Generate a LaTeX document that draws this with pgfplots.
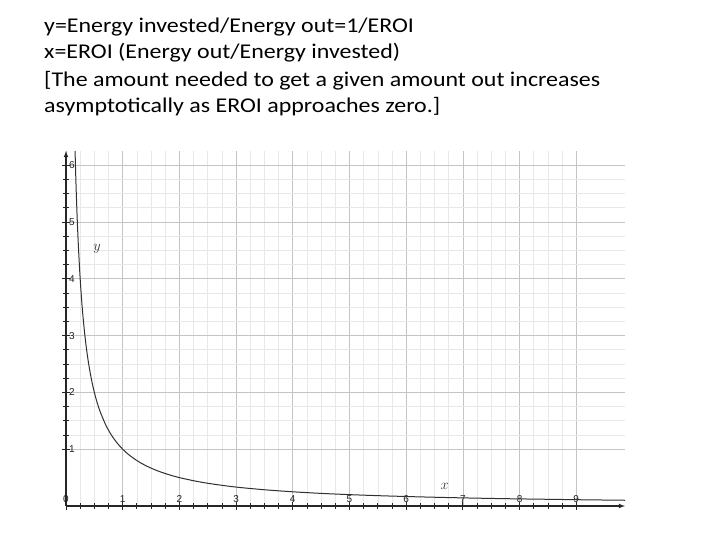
\documentclass[border=0pt]{standalone}
\usepackage{pgfplots}
\pgfplotsset{compat=1.18}
\usepackage{fontspec}
\setmainfont{Carlito}[FakeStretch=1.14]
\newfontfamily\tickfont{Liberation Sans}
\definecolor{majgrid}{HTML}{C4C4C4}
\definecolor{mingrid}{HTML}{E8E8E8}
\definecolor{curve}{HTML}{303030}
\begin{document}
\begin{tikzpicture}
\useasboundingbox (0pt,0pt) rectangle (720pt,540pt);
% title lines
\node[anchor=base west,inner sep=0,font=\fontsize{21}{24}\selectfont] at (44pt,507.5pt) {y=Energy invested/Energy out=1/EROI};
\node[anchor=base west,inner sep=0,font=\fontsize{21}{24}\selectfont] at (44pt,481pt) {x=EROI (Energy out/Energy invested)};
\node[anchor=base west,inner sep=0,font=\fontsize{21}{24}\selectfont] at (44pt,453.5pt) {[The amount needed to get a given amount out increases};
\node[anchor=base west,inner sep=0,font=\fontsize{21}{24}\selectfont] at (44pt,427pt) {asymptotically as EROI approaches zero.]};
\begin{axis}[
    at={(66pt,34pt)}, anchor=south west,
    scale only axis,
    width=559pt, height=355pt,
    xmin=0, xmax=9.86,
    ymin=0, ymax=6.25,
    axis lines=left,
    axis line style={black!85, line width=1.1pt, -latex},
    xtick={0,1,...,9},
    ytick={1,2,...,6},
    minor tick num=3,
    tick align=center,
    major tick length=8pt,
    minor tick length=6pt,
    tick style={black!85, line width=0.8pt},
    grid=both,
    major grid style={majgrid, line width=0.7pt},
    minor grid style={mingrid, line width=0.6pt},
    /pgf/number format/assume math mode=true,
    ticklabel style={font=\tickfont\fontsize{10}{10}\selectfont, text=black!88},
    xticklabel style={anchor=south, yshift=4pt},
    yticklabel style={anchor=west, xshift=3.5pt},
    clip=true,
    ]
\addplot[curve, line width=1pt, smooth] coordinates {
(0.16,6.25) (0.17,5.88) (0.18,5.556) (0.19,5.263) (0.2,5.0) (0.22,4.545)
(0.25,4.0) (0.28,3.571) (0.3,3.333) (0.33,3.03) (0.36,2.778) (0.4,2.5)
(0.45,2.222) (0.5,2.0) (0.55,1.818) (0.6,1.667) (0.7,1.429) (0.8,1.25)
(0.9,1.111) (1.0,1.0) (1.1,0.909) (1.25,0.8) (1.4,0.714) (1.6,0.625)
(1.8,0.556) (2.0,0.5) (2.3,0.435) (2.6,0.385) (3.0,0.333) (3.5,0.286)
(4.0,0.25) (4.5,0.222) (5.0,0.2) (5.5,0.182) (6.0,0.167) (6.5,0.154)
(7.0,0.143) (7.5,0.133) (8.0,0.125) (8.5,0.118) (9.0,0.111) (9.5,0.105)
(9.86,0.101)
};
\node[text=black!80] at (axis cs:0.55,4.53) {\fontsize{14}{14}\selectfont$y$};
\node[text=black!80] at (axis cs:6.68,0.35) {\fontsize{14}{14}\selectfont$x$};
\end{axis}
\end{tikzpicture}
\end{document}
